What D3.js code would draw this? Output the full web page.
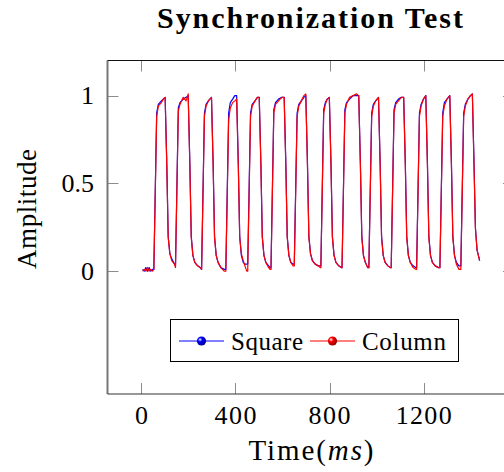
<!DOCTYPE html>
<html>
<head>
<meta charset="utf-8">
<script src="https://cdn.jsdelivr.net/npm/d3@7"></script>
<style>
  html, body { margin: 0; padding: 0; background: #fff; }
  #chart { width: 504px; height: 472px; }
  text { font-family: "Liberation Serif", "DejaVu Serif", serif; fill: #000; }
</style>
</head>
<body>
<div id="chart"></div>
<script>
// time stamps (ms), shared by both traces
const time = [
    5, 12, 19, 26, 33, 40, 47,
    53, 65, 72, 85, 93, 101, 108, 114, 121, 129, 141,
    145, 157, 164, 178, 190, 199, 206, 212, 219, 227, 239, 250,
    256, 268, 275, 285, 291, 298, 305, 311, 318, 326, 338, 352,
    359, 371, 378, 388, 397, 405, 412, 418, 425, 433, 440, 448,
    452, 464, 471, 483, 493, 501, 508, 514, 521, 529, 541, 547,
    551, 563, 570, 583, 597, 607, 614, 620, 627, 635, 645,
    650, 662, 669, 680, 691, 699, 706, 712, 719, 727, 739, 752, 760,
    763, 775, 782, 790, 799, 806, 812, 819, 827, 839, 850,
    853, 865, 872, 885, 900, 915, 924, 931, 937, 944, 952, 962,
    967, 979, 986, 996, 1008, 1015, 1021, 1028, 1036, 1048, 1058,
    1062, 1074, 1081, 1093, 1105, 1115, 1122, 1128, 1135, 1143, 1155, 1166,
    1170, 1182, 1189, 1199, 1209, 1216, 1222, 1229, 1237, 1249, 1263,
    1269, 1281, 1288, 1299, 1311, 1318, 1324, 1331, 1339, 1350,
    1358, 1370, 1377, 1388, 1399, 1407, 1414, 1420, 1427, 1438
];

const square = [
    0.01, 0.00, 0.02, 0.00, 0.02, 0.00, 0.01,
    0.01, 0.90, 0.95, 0.97, 0.98, 0.99, 0.62, 0.20, 0.10, 0.07, 0.04,
    0.03, 0.93, 0.96, 0.98, 0.99, 1.00, 0.62, 0.20, 0.09, 0.05, 0.03, 0.02,
    0.01, 0.90, 0.95, 0.97, 0.98, 0.99, 0.62, 0.20, 0.09, 0.05, 0.02, 0.01,
    0.01, 0.90, 0.96, 0.98, 1.00, 1.00, 0.62, 0.20, 0.09, 0.05, 0.04, 0.04,
    0.04, 0.90, 0.95, 0.97, 0.99, 0.99, 0.62, 0.20, 0.09, 0.05, 0.03, 0.02,
    0.02, 0.92, 0.96, 0.98, 0.99, 0.99, 0.62, 0.20, 0.09, 0.05, 0.04,
    0.04, 0.90, 0.95, 0.97, 0.99, 1.00, 0.62, 0.20, 0.10, 0.06, 0.04, 0.03, 0.03,
    0.03, 0.92, 0.96, 0.98, 0.99, 0.62, 0.20, 0.09, 0.05, 0.03, 0.02,
    0.02, 0.92, 0.96, 0.98, 1.00, 1.00, 1.00, 0.62, 0.20, 0.09, 0.05, 0.02,
    0.02, 0.90, 0.95, 0.97, 0.99, 0.62, 0.20, 0.09, 0.05, 0.03, 0.02,
    0.02, 0.92, 0.96, 0.98, 0.99, 0.99, 0.62, 0.20, 0.09, 0.05, 0.03, 0.02,
    0.02, 0.90, 0.95, 0.98, 1.00, 0.62, 0.20, 0.09, 0.05, 0.03, 0.02,
    0.02, 0.90, 0.96, 0.98, 1.00, 0.62, 0.20, 0.09, 0.05, 0.03,
    0.03, 0.90, 0.95, 0.98, 1.00, 1.01, 0.62, 0.25, 0.12, 0.06
];

const column = [
    0.00, 0.01, 0.00, 0.02, 0.00, 0.01, 0.00,
    0.01, 0.88, 0.94, 0.96, 0.98, 0.99, 0.60, 0.19, 0.10, 0.06, 0.04,
    0.02, 0.91, 0.95, 0.99, 0.97, 1.01, 0.60, 0.19, 0.09, 0.05, 0.03, 0.02,
    0.01, 0.88, 0.94, 0.97, 0.98, 0.99, 0.60, 0.19, 0.09, 0.05, 0.02, 0.00,
    0.00, 0.86, 0.93, 0.96, 0.97, 0.98, 0.60, 0.19, 0.10, 0.06, 0.03, 0.00,
    0.00, 0.88, 0.94, 0.97, 0.99, 0.99, 0.60, 0.19, 0.09, 0.05, 0.02, 0.01,
    0.01, 0.90, 0.95, 0.97, 0.99, 0.99, 0.60, 0.19, 0.09, 0.05, 0.03,
    0.03, 0.88, 0.94, 0.97, 1.00, 1.01, 0.60, 0.19, 0.10, 0.06, 0.04, 0.03, 0.02,
    0.02, 0.90, 0.95, 0.98, 0.99, 0.60, 0.19, 0.09, 0.05, 0.03, 0.02,
    0.02, 0.90, 0.95, 0.99, 1.00, 1.01, 1.00, 0.60, 0.19, 0.09, 0.05, 0.02,
    0.02, 0.88, 0.94, 0.97, 0.99, 0.60, 0.19, 0.09, 0.05, 0.03, 0.02,
    0.02, 0.90, 0.95, 0.97, 0.99, 0.99, 0.60, 0.19, 0.09, 0.05, 0.02, 0.01,
    0.01, 0.88, 0.94, 0.98, 1.00, 0.60, 0.19, 0.09, 0.05, 0.03, 0.02,
    0.02, 0.88, 0.94, 0.98, 1.00, 0.60, 0.19, 0.09, 0.04, 0.01,
    0.01, 0.88, 0.94, 0.98, 1.00, 1.01, 0.60, 0.24, 0.12, 0.06
];

const xTicks = [0, 400, 800, 1200];
const yTicks = [0, 0.5, 1];
const seriesNames = ['Square', 'Column'];
const seriesColors = ['#0000ff', '#ff0000'];

const width = 504, height = 472;
const box = { left: 107.5, right: 514, top: 60.5, bottom: 394 };

const x = d3.scaleLinear().domain([-144, 1584]).range([box.left, box.right]);
const y = d3.scaleLinear().domain([-0.7, 1.2]).range([box.bottom, box.top]);

const svg = d3.select('#chart').append('svg')
    .attr('width', width)
    .attr('height', height);

// ball markers for the legend
const defs = svg.append('defs');
seriesColors.forEach((c, i) => {
    const g = defs.append('radialGradient')
        .attr('id', 'ball' + i)
        .attr('cx', '35%').attr('cy', '35%').attr('r', '65%');
    g.append('stop').attr('offset', '0%').attr('stop-color', '#fff');
    g.append('stop').attr('offset', '35%').attr('stop-color', c);
    g.append('stop').attr('offset', '100%').attr('stop-color', d3.color(c).darker(1.6));
});

// clip the traces to the axis box
defs.append('clipPath').attr('id', 'plotClip')
    .append('rect')
    .attr('x', box.left).attr('y', box.top)
    .attr('width', box.right - box.left)
    .attr('height', box.bottom - box.top);

// ticks (pointing inward on all four sides)
const tickLen = 11;
const ticks = svg.append('g').attr('stroke', '#8c8c8c').attr('stroke-width', 1);
xTicks.forEach(t => {
    const px = Math.round(x(t)) + 0.5;
    ticks.append('line').attr('x1', px).attr('x2', px).attr('y1', box.bottom).attr('y2', box.bottom - tickLen);
    ticks.append('line').attr('x1', px).attr('x2', px).attr('y1', box.top).attr('y2', box.top + tickLen);
});
yTicks.forEach(t => {
    const py = Math.round(y(t)) + 0.5;
    ticks.append('line').attr('x1', box.left).attr('x2', box.left + tickLen).attr('y1', py).attr('y2', py);
    ticks.append('line').attr('x1', box.right).attr('x2', box.right - tickLen).attr('y1', py).attr('y2', py);
});

// traces
const line = d3.line()
    .x((d, i) => x(time[i]))
    .y(d => y(d));

const traces = svg.append('g').attr('clip-path', 'url(#plotClip)');
[square, column].forEach((vals, i) => {
    traces.append('path')
        .datum(vals)
        .attr('d', line)
        .attr('fill', 'none')
        .attr('stroke', seriesColors[i])
        .attr('stroke-width', 1.2)
        .attr('stroke-linejoin', 'round');
});

// axis box
svg.append('line').attr('x1', box.left).attr('x2', box.left).attr('y1', box.top).attr('y2', box.bottom)
    .attr('stroke', '#777').attr('stroke-width', 2);
svg.append('line').attr('x1', box.left).attr('x2', box.right).attr('y1', box.top).attr('y2', box.top)
    .attr('stroke', '#111').attr('stroke-width', 1.2);
svg.append('line').attr('x1', box.left).attr('x2', box.right).attr('y1', box.bottom).attr('y2', box.bottom)
    .attr('stroke', '#333').attr('stroke-width', 1.2);
svg.append('line').attr('x1', box.right).attr('x2', box.right).attr('y1', box.top).attr('y2', box.bottom)
    .attr('stroke', '#333').attr('stroke-width', 1.2);

// tick labels
svg.append('g').selectAll('text')
    .data(xTicks)
    .enter().append('text')
    .attr('x', d => x(d))
    .attr('y', 424)
    .attr('text-anchor', 'middle')
    .attr('textLength', d => String(d).length * 14)
    .attr('lengthAdjust', 'spacing')
    .style('font-size', '26px')
    .text(d => d);

svg.append('g').selectAll('text')
    .data(yTicks)
    .enter().append('text')
    .attr('x', 94)
    .attr('y', d => y(d))
    .attr('dy', '0.34em')
    .attr('text-anchor', 'end')
    .style('font-size', '26px')
    .text(d => d);

// title and axis labels
svg.append('text')
    .attr('x', 310)
    .attr('y', 28)
    .attr('text-anchor', 'middle')
    .attr('textLength', 306)
    .attr('lengthAdjust', 'spacing')
    .style('font-size', '30px')
    .style('font-weight', 'bold')
    .text('Synchronization Test');

const xLabel = svg.append('text')
    .attr('x', 311)
    .attr('y', 460)
    .attr('text-anchor', 'middle')
    .attr('textLength', 125)
    .attr('lengthAdjust', 'spacing')
    .style('font-size', '29px');
xLabel.append('tspan').text('Time(');
xLabel.append('tspan').style('font-style', 'italic').text('ms');
xLabel.append('tspan').text(')');

svg.append('text')
    .attr('transform', 'translate(36,209) rotate(-90)')
    .attr('text-anchor', 'middle')
    .attr('textLength', 120)
    .attr('lengthAdjust', 'spacing')
    .style('font-size', '27px')
    .text('Amplitude');

// legend
const legend = svg.append('g');
legend.append('rect')
    .attr('x', 170.5).attr('y', 319.5)
    .attr('width', 288).attr('height', 42)
    .attr('fill', '#fff').attr('stroke', '#000').attr('stroke-width', 1);

const entryX = [179, 310];
const labelWidth = [72, 84];
seriesNames.forEach((name, i) => {
    const g = legend.append('g').attr('transform', 'translate(' + entryX[i] + ',341)');
    g.append('line').attr('x1', 0).attr('x2', 45).attr('y1', 0).attr('y2', 0)
        .attr('stroke', seriesColors[i]).attr('stroke-width', 1.2);
    g.append('circle').attr('cx', 22.5).attr('cy', 0).attr('r', 4.6)
        .attr('fill', 'url(#ball' + i + ')');
    g.append('text').attr('x', 52).attr('y', 8.5)
        .attr('textLength', labelWidth[i])
        .attr('lengthAdjust', 'spacing')
        .style('font-size', '25px')
        .text(name);
});
</script>
</body>
</html>
